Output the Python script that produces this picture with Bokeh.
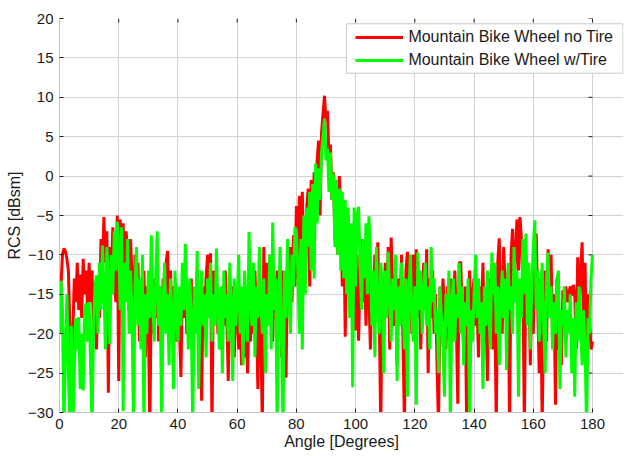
from bokeh.plotting import figure
from bokeh.models import Range1d, FixedTicker, Legend, LegendItem, BoxAnnotation
from bokeh.embed import file_html
from bokeh.resources import INLINE

# ---------------- data (0.5 degree steps) ----------------
angle_step = 0.5

no_tire_rows = [
    [-20, -14, -10, -9.2, -9.5, -10.5, -12, -19, -24, -20, -13, -16, -11, -17, -12.5, -18, -10.5, -15, -12, -17],
    [-11, -16, -12, -20, -14, -22, -13, -18, -8, -12, -5.2, -11, -7, -27.5, -9, -14, -6.5, -12, -16, -5],
    [-26, -5.5, -12, -6, -14, -7, -10, -17, -8, -13, -19, -10, -15, -11, -21, -13, -17, -12, -23, -14],
    [-18, -32, -15, -20, -13, -18, -11, -21, -14, -23, -13, -19, -11, -9.5, -17, -12, -20, -14, -18, -21],
    [-15, -19, -25.5, -14, -18, -12, -20, -14, -17, -13, -21, -15, -18, -12, -22, -16, -28.5, -14, -19, -13],
    [-10, -16, -9.8, -32, -12, -17, -13, -20, -15, -22, -14, -19, -12, -18, -26, -15, -20, -14, -23, -17],
    [-15, -22, -18, -24, -16, -23, -19, -25, -17, -21, -14, -20, -12, -18, -27, -15, -20, -32, -9, -22],
    [-11, -17, -10, -15, -21, -13, -18, -12, -19, -14, -23, -12, -17, -25.6, -11, -15, -9, -16, -7.5, -14],
    [-3.8, -13, -2.5, -9, -2, -11, -13.6, -4, -1.6, -14, -0.5, -8, 0.5, -6, 2, 4.5, -5, 5.5, 8, 10.2],
    [7, 8.3, 2, 4, -3, 0.5, -8, -0.5, -10, 0, -4, -14, -6, -20.4, -8, -5, -17, -7, -14, -9],
    [-19.6, -10, -20.9, -13, -8, -16, -11, -19, -10, -15, -22, -12, -17, -10, -14, -8.4, -18, -32, -13, -20],
    [-11, -16, -9, -22, -7.8, -14, -19, -12, -24, -13, -17, -10, -21, -32, -12, -9.6, -16, -11, -20, -10],
    [-14, -9.3, -18, -12, -22, -15, -11, -17, -9.3, -25, -13, -18, -12, -20, -15, -24, -32, -14, -19, -13],
    [-17, -22, -14, -19, -13, -21, -16, -12, -18, -28.9, -11, -10.9, -17, -22, -14, -32, -16, -12, -20, -15],
    [-13, -19, -16, -23, -14, -18, -11, -21, -15, -26, -13, -18, -12, -22, -16, -32, -11, -7.9, -15, -20],
    [-9, -14, -19, -12, -32, -10, -6.7, -16, -9, -5.5, -12, -5.2, -8, -14, -32, -10, -18, -12, -24, -15],
    [-20, -11, -7.3, -16, -25, -13, -32, -17, -12, -21, -9.3, -14, -10, -19, -15, -29, -13, -22, -17, -24],
    [-14.5, -15.3, -14, -16, -14.8, -14, -15.2, -13.8, -15, -22, -10.3, -16, -12, -8.4, -20, -11, -25, -15, -18, -22],
    [-21],
]

with_tire_rows = [
    [-20, -13.3, -17, -32, -22, -15, -25, -32, -19, -32, -25, -18, -22, -17.9, -27, -20, -27.2, -17, -16.1, -21],
    [-16, -24, -32, -19, -14, -12.6, -20, -11, -17, -8.8, -14, -22, -9, -13, -21.3, -10, -15, -7, -12, -5.8],
    [-9, -17, -6.5, -29.8, -11, -16, -8, -20, -12, -18, -32, -14, -9, -19, -13, -22, -10, -32, -15, -20],
    [-12, -18, -7.5, -16, -21, -13, -7, -19, -14, -32, -16, -11, -20, -15, -24, -13, -18, -27, -12, -17],
    [-21, -14, -19, -11, -17, -8.6, -15, -22, -13, -18, -32, -14, -20, -9.5, -27, -16, -12, -19, -15, -23],
    [-13, -18, -11, -21, -15, -19, -9.2, -17, -22, -14, -25, -12, -18, -15, -21, -11, -17, -26, -13, -19],
    [-16, -10, -20, -14, -24, -12, -17, -21, -7.1, -15, -19, -11, -23, -14, -18, -9, -16, -20, -13, -25],
    [-15, -19, -10, -22, -5.9, -17, -13, -32, -16, -9, -21, -32, -12, -18, -8, -15, -20, -10, -14, -6.5],
    [-7, -12, -20, -8, -22, -5, -15, -4, -9, -2, -12, -1, -13, 1.6, -6, 1, -3, 3, 5, 7.3],
    [2, 3.5, -2, 3, -3, 0.3, -9, -0.5, -10, -1.6, -12, -2, -13, -3, -15, -4, -18, -6, -26.8, -4],
    [-14, -5, -3.9, -11, -17, -8, -13, -6, -15, -5.1, -10, -19, -12, -23, -9, -16, -20, -11, -14, -25],
    [-12, -18, -9.6, -15, -21, -13, -17, -10, -26, -14, -19, -11, -16, -22, -13, -28, -15, -10, -18, -21],
    [-14, -29, -9.7, -17, -12, -20, -15, -11, -19, -14, -22, -9, -16, -13, -20, -17, -25, -14, -18, -22],
    [-28, -15, -19, -12, -32, -16, -13, -21, -15, -18, -11, -20, -14, -24, -16, -19, -13, -32, -17, -21],
    [-15, -10, -18, -13, -20, -16, -27, -14, -19, -12, -17, -22, -9.7, -15, -11, -20, -14, -24, -16, -12],
    [-18, -13, -24.6, -11, -17, -14, -20, -9, -16, -12, -28, -13, -18, -8, -15, -7.3, -19, -11, -22, -14],
    [-9, -5.6, -17, -12, -21, -15, -11, -19, -25, -13, -9.7, -18, -14, -22, -16, -20, -13, -12, -27, -17],
    [-19, -14, -23, -17, -20, -15, -25, -18, -28, -16, -21, -14, -19, -24, -17, -22, -32, -18, -20, -13],
    [-10],
]

no_tire = [v for row in no_tire_rows for v in row]
with_tire = [v for row in with_tire_rows for v in row]
angles = [i * angle_step for i in range(len(no_tire))]

series_labels = ["Mountain Bike Wheel no Tire", "Mountain Bike Wheel w/Tire"]
x_ticks = [0, 20, 40, 60, 80, 100, 120, 140, 160, 180]
y_ticks = [-30, -25, -20, -15, -10, -5, 0, 5, 10, 15, 20]

# ---------------- layout (pixels) ----------------
FONT = "Liberation Sans"
W, H = 624, 454
FRAME_L, FRAME_T, AXES_R, FRAME_B = 59, 18, 592, 412   # axes box in the window
LEGEND_R = 623                                          # legend box sticks out to the right
x0, x1 = x_ticks[0], x_ticks[-1]
y0, y1 = y_ticks[0], y_ticks[-1]
px_per_x = (AXES_R - FRAME_L) / (x1 - x0)
px_per_y = (FRAME_B - FRAME_T) / (y1 - y0)
x_view_end = x1 + (LEGEND_R - AXES_R) / px_per_x

p = figure(width=W, height=H, output_backend="svg", toolbar_location=None,
           x_range=Range1d(x0, x_view_end), y_range=Range1d(y0, y1),
           min_border_left=FRAME_L, min_border_right=W - LEGEND_R,
           min_border_top=FRAME_T, min_border_bottom=H - FRAME_B)
p.background_fill_color = "white"
p.border_fill_color = "white"
p.outline_line_color = None

p.xaxis.ticker = FixedTicker(ticks=x_ticks)
p.yaxis.ticker = FixedTicker(ticks=y_ticks)
p.xaxis.bounds = (x0, x1)
for ax in (p.xaxis[0], p.yaxis[0]):
    ax.axis_line_color = "#c4c4c4"
    ax.major_tick_in = 4
    ax.major_tick_out = 0
    ax.major_tick_line_color = "#222222"
    ax.minor_tick_line_color = None
    ax.major_label_text_font = FONT
    ax.major_label_text_font_size = "15px"
    ax.major_label_text_color = "#1a1a1a"
    ax.axis_label_text_font = FONT
    ax.axis_label_text_font_size = "16px"
    ax.axis_label_text_font_style = "normal"
    ax.axis_label_text_color = "#1a1a1a"

p.xaxis.axis_label = "Angle [Degrees]"
p.xaxis.major_label_standoff = 6
p.xaxis.axis_label_standoff = 1
p.yaxis.axis_label = "RCS [dBsm]"
p.yaxis.major_label_standoff = 6
p.yaxis.axis_label_standoff = 2

p.grid.grid_line_color = "#d2d2d2"
p.grid.grid_line_width = 1
p.ygrid.bounds = (x0, x1)

# inward ticks on the top and right edges (MATLAB box style)
tick_px = 4
dy = tick_px / px_per_y
dx = tick_px / px_per_x
p.segment(x0=x_ticks, y0=[y1] * len(x_ticks), x1=x_ticks, y1=[y1 - dy] * len(x_ticks),
          line_color="#222222", line_width=1)
p.segment(x0=[x1] * len(y_ticks), y0=y_ticks, x1=[x1 - dx] * len(y_ticks), y1=y_ticks,
          line_color="#222222", line_width=1)

r_red = p.line(angles, no_tire, line_color="#ff0000", line_width=3)
r_green = p.line(angles, with_tire, line_color="#00ff00", line_width=3)

# legend frame (frame-relative screen units, y measured up from the bottom)
box = BoxAnnotation(left=346 - FRAME_L, right=LEGEND_R - FRAME_L - 0.5,
                    bottom=FRAME_B - 72.7, top=FRAME_B - 23.3,
                    left_units="screen", right_units="screen",
                    top_units="screen", bottom_units="screen",
                    fill_color="white", fill_alpha=1.0,
                    line_color="#c8c8c8", line_width=1, line_alpha=1.0)
p.add_layout(box)

legend = Legend(items=[LegendItem(label=series_labels[0], renderers=[r_red]),
                       LegendItem(label=series_labels[1], renderers=[r_green])],
                location=(296.4, 342), padding=10, spacing=3, margin=0,
                glyph_width=48, glyph_height=20, label_height=20, label_standoff=5,
                label_text_font=FONT, label_text_font_size="16px",
                label_text_color="#1a1a1a",
                border_line_color=None, background_fill_alpha=0)
p.add_layout(legend)

open("out.html", "w").write(file_html(p, INLINE))
